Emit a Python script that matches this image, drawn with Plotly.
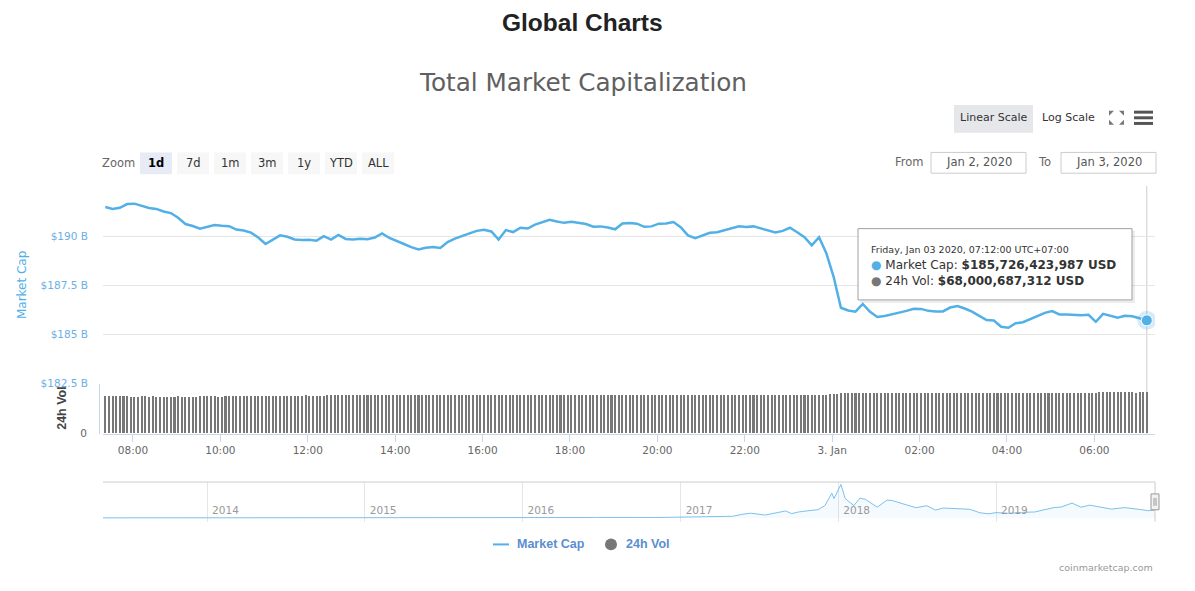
import plotly.graph_objects as go
import pandas as pd

W, H = 1195, 591


def px(x):
    return x / W


def py(y):
    return 1 - y / H


# ---------------- DATA ----------------
mc_start = "2020-01-02 07:22"
# Total market cap, billions USD, every 10 minutes
market_cap_b = [
    191.51, 191.41, 191.47, 191.66, 191.68, 191.57, 191.46, 191.41, 191.28, 191.20, 190.96, 190.64,
    190.54, 190.40, 190.51, 190.59, 190.55, 190.53, 190.36, 190.31, 190.20, 189.95, 189.62, 189.82,
    190.06, 189.99, 189.85, 189.83, 189.84, 189.79, 190.02, 189.85, 190.08, 189.88, 189.85, 189.89,
    189.87, 189.95, 190.16, 189.93, 189.79, 189.62, 189.46, 189.34, 189.43, 189.47, 189.42, 189.72,
    189.90, 190.01, 190.16, 190.29, 190.35, 190.26, 189.85, 190.33, 190.23, 190.45, 190.41, 190.61,
    190.74, 190.86, 190.77, 190.70, 190.75, 190.71, 190.64, 190.50, 190.52, 190.46, 190.37, 190.67,
    190.69, 190.66, 190.50, 190.52, 190.66, 190.67, 190.74, 190.48, 190.06, 189.92, 190.06, 190.19,
    190.22, 190.33, 190.44, 190.53, 190.49, 190.52, 190.42, 190.31, 190.21, 190.29, 190.45, 190.22,
    189.97, 189.55, 189.97, 189.15, 187.95, 186.37, 186.23, 186.17, 186.56, 186.16, 185.90, 185.95,
    186.05, 186.12, 186.21, 186.32, 186.31, 186.21, 186.18, 186.18, 186.38, 186.46, 186.33, 186.17,
    185.95, 185.74, 185.72, 185.40, 185.35, 185.58, 185.63, 185.79, 185.95, 186.11, 186.20, 186.03,
    186.02, 186.01, 185.98, 186.01, 185.65, 186.06, 185.94, 185.86, 185.96, 185.93, 185.83, 185.726423987,
]
# 24h volume, billions USD, every 5 minutes
volume_b = [
    61.6, 61.6, 61.6, 61.6, 61.6, 61.6, 61.6, 60.0, 60.0, 60.0, 61.6, 61.6,
    60.0, 60.2, 60.0, 60.0, 60.1, 60.0, 60.0, 60.0, 60.2, 60.0, 60.0, 60.1,
    60.0, 60.0, 60.2, 61.6, 61.8, 61.6, 61.6, 60.0, 60.0, 61.1, 61.1, 61.2,
    61.1, 61.1, 61.2, 61.1, 61.1, 61.1, 61.2, 61.1, 61.1, 61.1, 61.2, 61.1,
    61.1, 61.1, 61.2, 61.1, 61.1, 61.1, 61.1, 62.9, 61.1, 61.2, 61.1, 61.1,
    61.2, 62.7, 62.8, 62.7, 62.7, 62.8, 62.7, 62.7, 62.7, 62.8, 62.7, 62.7,
    62.7, 62.8, 62.7, 62.7, 62.7, 62.8, 62.7, 62.7, 62.5, 62.5, 62.6, 62.5,
    62.5, 62.4, 62.5, 62.5, 62.6, 62.5, 62.4, 62.5, 62.8, 62.8, 62.9, 62.8,
    62.8, 62.9, 62.8, 63.0, 63.0, 63.1, 63.0, 63.0, 63.1, 63.0, 63.0, 63.0,
    63.1, 63.0, 63.0, 63.2, 63.3, 63.2, 63.3, 63.2, 63.3, 63.3, 63.2, 63.3,
    63.3, 63.2, 63.3, 63.3, 63.2, 63.3, 63.1, 63.0, 63.0, 62.9, 62.9, 62.8,
    62.6, 62.5, 62.5, 62.4, 62.5, 62.4, 62.4, 62.5, 62.4, 62.4, 62.5, 62.4,
    62.3, 62.2, 62.3, 62.2, 62.2, 62.1, 62.2, 62.1, 62.1, 62.2, 62.1, 62.1,
    62.0, 62.1, 62.0, 62.0, 62.1, 62.0, 62.0, 61.9, 62.0, 61.9, 62.0, 62.0,
    62.0, 61.9, 62.0, 62.0, 62.1, 62.0, 62.2, 62.1, 62.2, 62.2, 62.3, 62.2,
    62.3, 62.4, 62.3, 62.4, 62.5, 62.4, 62.5, 62.5, 62.6, 62.5, 62.6, 62.7,
    62.7, 62.8, 62.8, 62.9, 63.0, 63.1, 63.4, 63.8, 64.3, 64.9, 65.4, 65.6,
    65.6, 65.7, 65.6, 65.7, 65.7, 65.8, 65.7, 65.8, 65.8, 65.7, 65.8, 65.8,
    65.9, 65.8, 65.9, 65.9, 66.0, 65.9, 66.0, 66.0, 65.9, 66.0, 66.1, 66.0,
    66.0, 66.1, 66.1, 66.0, 66.1, 66.1, 66.2, 66.1, 66.1, 66.2, 66.1, 66.2,
    66.2, 66.2, 66.1, 66.2, 66.3, 66.2, 66.2, 66.3, 66.2, 66.3, 66.3, 66.2,
    66.3, 66.3, 66.2, 66.3, 66.3, 66.3, 66.2, 66.3, 66.3, 66.3, 66.2, 66.3,
    66.3, 66.3, 66.3, 66.2, 66.3, 66.3, 66.3, 66.3, 66.3, 68.0, 68.0, 68.0,
    68.0, 68.0, 68.0, 68.0, 68.0, 68.0, 68.0, 66.6, 68.0, 68.0, 68.000687312,
]
x_tick_times = [
    "2020-01-02 08:00", "2020-01-02 10:00", "2020-01-02 12:00", "2020-01-02 14:00",
    "2020-01-02 16:00", "2020-01-02 18:00", "2020-01-02 20:00", "2020-01-02 22:00",
    "2020-01-03 00:00", "2020-01-03 02:00", "2020-01-03 04:00", "2020-01-03 06:00",
]
x_tick_labels = ["08:00", "10:00", "12:00", "14:00", "16:00", "18:00", "20:00",
                 "22:00", "3. Jan", "02:00", "04:00", "06:00"]
cap_ticks = [182.5, 185, 187.5, 190, 192.5]
cap_tick_labels = ["$182.5 B", "$185 B", "$187.5 B", "$190 B", ""]

# Navigator: full history of total market cap, billions USD
nav_dates = [
    "2013-04-28", "2013-06-01", "2013-07-01", "2013-08-01", "2013-09-01", "2013-10-01",
    "2013-11-01", "2013-11-20", "2013-12-04", "2013-12-18", "2014-01-05", "2014-02-01",
    "2014-03-01", "2014-04-01", "2014-05-01", "2014-06-01", "2014-07-01", "2014-08-01",
    "2014-09-01", "2014-10-01", "2014-11-01", "2014-12-01", "2015-01-01", "2015-02-01",
    "2015-03-01", "2015-04-01", "2015-05-01", "2015-06-01", "2015-07-01", "2015-08-01",
    "2015-09-01", "2015-10-01", "2015-11-01", "2015-12-01", "2016-01-01", "2016-02-01",
    "2016-03-01", "2016-04-01", "2016-05-01", "2016-06-01", "2016-06-18", "2016-07-01",
    "2016-08-01", "2016-09-01", "2016-10-01", "2016-11-01", "2016-12-01", "2017-01-01",
    "2017-02-01", "2017-03-01", "2017-04-01", "2017-05-01", "2017-05-25", "2017-06-12",
    "2017-07-16", "2017-08-01", "2017-09-01", "2017-09-15", "2017-10-01", "2017-11-01",
    "2017-11-15", "2017-12-01", "2017-12-17", "2017-12-22", "2018-01-07", "2018-01-17",
    "2018-02-06", "2018-02-20", "2018-03-05", "2018-04-01", "2018-04-24", "2018-05-06",
    "2018-06-01", "2018-06-29", "2018-07-25", "2018-08-14", "2018-09-01", "2018-10-01",
    "2018-11-01", "2018-11-25", "2018-12-15", "2019-01-01", "2019-02-01", "2019-03-01",
    "2019-04-01", "2019-04-15", "2019-05-15", "2019-06-01", "2019-06-26", "2019-07-17",
    "2019-08-06", "2019-09-01", "2019-09-25", "2019-10-26", "2019-11-01", "2019-12-01",
    "2019-12-18", "2020-01-03",
]
nav_values_b = [
    1.6, 1.3, 0.9, 1.2, 1.6, 1.7,
    2.6, 8.0, 15.0, 6.5, 11.0, 10.0,
    7.5, 6.0, 5.8, 8.5, 8.4, 7.5,
    6.5, 5.3, 4.6, 5.3, 4.4, 3.3,
    3.5, 3.7, 3.3, 3.4, 4.3, 4.2,
    3.6, 3.7, 5.3, 5.8, 7.0, 6.7,
    8.0, 8.0, 8.8, 9.8, 13.5, 12.0,
    10.5, 10.7, 11.0, 12.0, 14.0, 17.7,
    17.0, 21.0, 24.5, 40.0, 90.0, 115.0,
    70.0, 100.0, 170.0, 105.0, 145.0, 185.0,
    200.0, 300.0, 600.0, 470.0, 813.0, 470.0,
    300.0, 480.0, 450.0, 260.0, 435.0, 420.0,
    330.0, 250.0, 295.0, 190.0, 240.0, 220.0,
    210.0, 125.0, 100.0, 128.0, 113.0, 135.0,
    145.0, 180.0, 250.0, 265.0, 360.0, 260.0,
    310.0, 260.0, 215.0, 250.0, 245.0, 205.0,
    175.0, 186.0,
]
nav_years = ["2014-01-01", "2015-01-01", "2016-01-01", "2017-01-01", "2018-01-01", "2019-01-01"]
nav_year_labels = ["2014", "2015", "2016", "2017", "2018", "2019"]

zoom_buttons = ["1d", "7d", "1m", "3m", "1y", "YTD", "ALL"]
date_from, date_to = "Jan 2, 2020", "Jan 3, 2020"

# ---------------- STYLE ----------------
LINE = "#52b0e7"
BAR = "#777777"
FONT = "DejaVu Sans"
SANS = "Liberation Sans"

mc_times = pd.date_range(mc_start, periods=len(market_cap_b), freq="10min")
vol_times = pd.date_range(mc_start, periods=len(volume_b), freq="5min")

fig = go.Figure()
fig.add_trace(go.Bar(x=vol_times, y=volume_b, xaxis="x", yaxis="y2",
                     marker=dict(color=BAR, line=dict(width=0)),
                     width=300000 * 0.56, hoverinfo="skip", showlegend=False))
fig.add_trace(go.Scatter(x=mc_times, y=market_cap_b, xaxis="x", yaxis="y", mode="lines",
                         line=dict(color=LINE, width=2.5), hoverinfo="skip", showlegend=False))
fig.add_trace(go.Scatter(x=[mc_times[-1]], y=[market_cap_b[-1]], mode="markers",
                         marker=dict(size=19, color="rgba(82,176,231,0.25)"),
                         hoverinfo="skip", showlegend=False))
fig.add_trace(go.Scatter(x=[mc_times[-1]], y=[market_cap_b[-1]], mode="markers",
                         marker=dict(size=11, color=LINE, line=dict(color="white", width=1)),
                         hoverinfo="skip", showlegend=False))
fig.add_trace(go.Scatter(x=pd.to_datetime(nav_dates), y=nav_values_b, xaxis="x2", yaxis="y3",
                         mode="lines", line=dict(color="#7cc0ec", width=1),
                         fill="tozeroy", fillcolor="rgba(82,176,231,0.06)",
                         hoverinfo="skip", showlegend=False))

shapes = []
annotations = []


def ann(x, y, text, size=11, color="#333", xanchor="center", family=FONT, angle=0):
    annotations.append(dict(x=px(x), y=py(y), xref="paper", yref="paper", text=text,
                            showarrow=False, xanchor=xanchor, yanchor="middle",
                            textangle=angle, font=dict(family=family, size=size, color=color)))


def rect(x0, y0, x1, y1, fill, line=None, lw=0, layer="above"):
    shapes.append(dict(type="rect", xref="paper", yref="paper", x0=px(x0), x1=px(x1),
                       y0=py(y1), y1=py(y0), fillcolor=fill, layer=layer,
                       line=dict(color=line or fill, width=lw)))


def seg(x0, y0, x1, y1, color, w=1, layer="above"):
    shapes.append(dict(type="line", xref="paper", yref="paper", x0=px(x0), x1=px(x1),
                       y0=py(y0), y1=py(y1), layer=layer, line=dict(color=color, width=w)))


def path(points, fill):
    d = "M " + " L ".join(f"{px(a):.5f},{py(b):.5f}" for a, b in points) + " Z"
    shapes.append(dict(type="path", xref="paper", yref="paper", path=d, fillcolor=fill,
                       line=dict(width=0)))


# headings
ann(582, 23, "<b>Global Charts</b>", size=24.5, color="#222", family=SANS)
ann(583, 83, "Total Market Capitalization", size=24.7, color="#606060")

# scale buttons
rect(954, 106, 1033, 134, "#e6e7ea")
ann(993.5, 119, "Linear Scale", size=11, color="#333")
ann(1068.5, 119, "Log Scale", size=11, color="#333")
for (a, b), (c, d) in [((1109, 112), (1114, 117)), ((1124, 112), (1119, 117)),
                       ((1109, 126), (1114, 121)), ((1124, 126), (1119, 121))]:
    path([(a, b), (c, b), (a, d)], "#777")
for yy in (113.3, 119, 124.7):
    rect(1134, yy - 1.5, 1153, yy + 1.5, "#555")

# zoom buttons
ann(118.5, 165, "Zoom", size=11.5, color="#666")
for i, lab in enumerate(zoom_buttons):
    x0 = 140 + 37 * i
    rect(x0, 154, x0 + 32, 176, "#e6ebf5" if i == 0 else "#f7f7f7")
    ann(x0 + 16, 165, f"<b>{lab}</b>" if i == 0 else lab, size=11.5,
        color="#000" if i == 0 else "#333")

# date inputs
ann(909, 163.5, "From", size=11.5, color="#666")
rect(931, 154, 1026, 175, "white", "#cccccc", 1)
ann(978.5, 164, date_from, size=11.5, color="#555")
ann(1044.5, 163.5, "To", size=11.5, color="#666")
rect(1061, 154, 1156, 175, "white", "#cccccc", 1)
ann(1108.5, 164, date_to, size=11.5, color="#555")

# axis titles
ann(22, 288, "Market Cap", size=12, color=LINE, angle=-90)
ann(62, 412, "<b>24h Vol</b>", size=12.5, color="#444", family=SANS, angle=-90)

# crosshair at hovered point
shapes.append(dict(type="line", xref="x", yref="paper", x0=mc_times[-1], x1=mc_times[-1],
                   y0=py(438), y1=py(188), layer="below", line=dict(color="#cccccc", width=1)))

# tooltip
rect(860, 233, 1135, 306, "rgba(0,0,0,0.07)")
rect(858, 231, 1132, 303, "white", "#a0a0a0", 1)
hover_time = mc_times[-1]
ann(869, 252, hover_time.strftime("%A, %b %d %Y, %H:%M:%S") + " UTC+07:00",
    size=9.5, color="#333", xanchor="left")
ann(869, 268, f"<span style='color:{LINE}'>●</span> Market Cap: "
              f"<b>${market_cap_b[-1] * 1e9:,.0f} USD</b>", size=12, color="#333", xanchor="left")
ann(869, 284, f"<span style='color:{BAR}'>●</span> 24h Vol: "
              f"<b>${volume_b[-1] * 1e9:,.0f} USD</b>", size=12, color="#333", xanchor="left")

# navigator decorations
seg(103, 487, 1155, 487, "#cccccc")
seg(1155, 487, 1155, 527, "#cccccc")
rect(1151, 499, 1159, 515, "#f2f2f2", "#999999", 1)
seg(1154, 503, 1154, 511, "#999999")
seg(1156, 503, 1156, 511, "#999999")

# legend
seg(493, 550, 509, 550, LINE, 2)
ann(515, 550, "<b>Market Cap</b>", size=12.5, color="#5a8ed0", family=SANS, xanchor="left")
shapes.append(dict(type="circle", xref="paper", yref="paper", x0=px(605), x1=px(617),
                   y0=py(556), y1=py(544), fillcolor="#777", line=dict(width=0)))
ann(624, 550, "<b>24h Vol</b>", size=12.5, color="#5a8ed0", family=SANS, xanchor="left")

ann(1155, 573, "coinmarketcap.com", size=9.5, color="#999", xanchor="right")

fig.update_layout(
    width=W, height=H, autosize=False,
    margin=dict(l=0, r=0, t=0, b=0),
    paper_bgcolor="white", plot_bgcolor="white",
    font=dict(family=FONT, size=11, color="#666"),
    hovermode=False, bargap=0,
    shapes=shapes, annotations=annotations,
    xaxis=dict(domain=[px(103), px(1155)], anchor="y2", type="date",
               range=["2020-01-02 07:18:50", "2020-01-03 07:23:15"],
               tickvals=pd.to_datetime(x_tick_times), ticktext=x_tick_labels,
               ticks="outside", ticklen=7, tickcolor="#ccd6eb", showline=True,
               linecolor="#ccd6eb", linewidth=1, showgrid=False, zeroline=False,
               tickfont=dict(family=FONT, size=10.5, color="#666")),
    yaxis=dict(domain=[py(387.5), py(189.5)], anchor="x", range=[182.5, 192.5],
               tickvals=cap_ticks, ticktext=cap_tick_labels, showgrid=True,
               gridcolor="#e6e6e6", gridwidth=1, zeroline=False, ticks="outside",
               ticklen=12, tickcolor="rgba(0,0,0,0)",
               tickfont=dict(family=FONT, size=10.5, color="#6aafe6")),
    yaxis2=dict(domain=[py(438), py(388)], anchor="free", position=px(99),
                range=[0, 80.5], tickvals=[0], ticktext=["0"], showgrid=False,
                zeroline=False, showline=True, linecolor="#ccd6eb", ticks="outside",
                ticklen=10, tickcolor="rgba(0,0,0,0)",
                tickfont=dict(family=FONT, size=10.5, color="#666")),
    xaxis2=dict(domain=[px(103), px(1155)], anchor="y3", type="date",
                range=["2013-05-05", "2020-01-04"],
                tickvals=pd.to_datetime(nav_years), ticktext=nav_year_labels,
                ticklabelposition="inside right", ticklabelshift=5, ticks="", showgrid=True,
                gridcolor="#e6e6e6", showline=False, zeroline=False,
                tickfont=dict(family=FONT, size=10.5, color="#999")),
    yaxis3=dict(domain=[py(527), py(487)], anchor="x2", range=[-90, 870],
                showgrid=False, zeroline=False, showticklabels=False, ticks=""),
)

fig.write_html("out.html", config={"displayModeBar": False, "responsive": False})
